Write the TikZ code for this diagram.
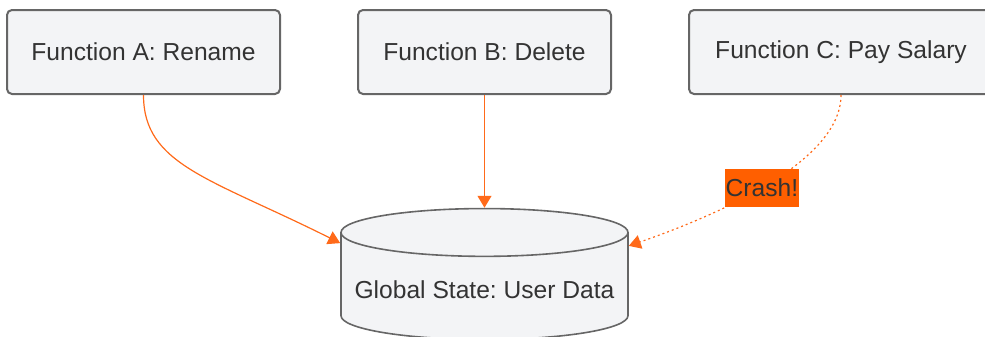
\documentclass[tikz,border=0pt]{standalone}
\usepackage{fontspec}
\setmainfont{Liberation Sans}
\usetikzlibrary{shapes.geometric, arrows.meta, positioning}
\definecolor{boxfill}{HTML}{F3F4F6}
\definecolor{boxdraw}{HTML}{666666}
\definecolor{textgray}{HTML}{333333}
\definecolor{floworange}{HTML}{FF6A1A}
\definecolor{crashorange}{HTML}{FF5F00}
\frenchspacing

\begin{document}
\begin{tikzpicture}[
  x=0.5pt, y=-0.5pt,
  funcbox/.style={rectangle, rounded corners=2.5pt, draw=boxdraw, line width=1pt, fill=boxfill, minimum height=42pt, font=\fontsize{12.3}{14}\selectfont, text=textgray},
  store/.style={cylinder, shape border rotate=90, aspect=0.175, draw=boxdraw, line width=0.8pt, fill=boxfill, minimum width=143.5pt, minimum height=65.5pt, font=\fontsize{12.3}{14}\selectfont, text=textgray},
  flow/.style={-{Triangle[length=6pt, width=7pt]}, line width=0.6pt, color=floworange},
  failflow/.style={flow, dash pattern=on 1pt off 1.5pt}
]
  \useasboundingbox (0,0) rectangle (985,337);
  \clip (0,0) rectangle (985,337);

  % Functions
  \node[funcbox, minimum width=136.5pt] (fa) at (143.5,52) {Function A: Rename};
  \node[funcbox, minimum width=126.5pt] (fb) at (484.5,52) {Function B: Delete};
  \node[funcbox, minimum width=152pt] (fc) at (841,52) {Function C: Pay Salary};

  % Shared state
  \node[store] (db) at (484.5,290) {Global State: User Data};

  % Arrows
  \draw[flow] (fa.south) .. controls +(0,70) and +(-130,-65) .. (db.162.6);
  \draw[flow] (fb.south) -- (db.north);
  \draw[failflow] (fc.south) .. controls +(0,71) and +(72,-25) .. (db.17.4)
    node[pos=0.5, fill=crashorange, inner xsep=0.5pt, inner ysep=0pt, minimum height=19pt, text=textgray, font=\fontsize{12.3}{14}\selectfont] (crash) {Crash!};
\end{tikzpicture}
\end{document}
